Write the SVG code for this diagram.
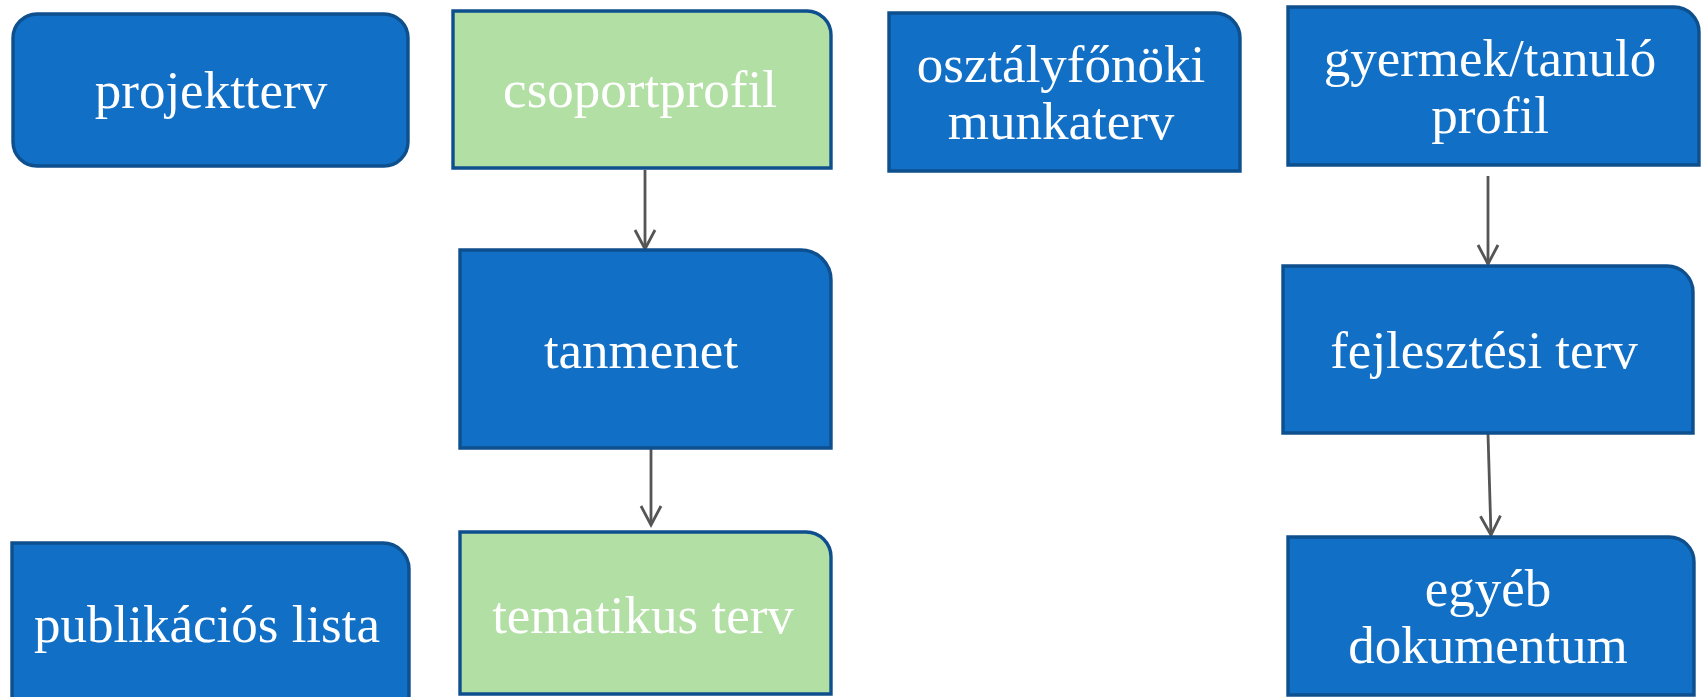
<svg xmlns="http://www.w3.org/2000/svg" width="1702" height="697" viewBox="0 0 1702 697">
<style>
.blue{fill:#116fc6;stroke:#0e4f8e;stroke-width:3.4}
.green{fill:#b2dfa4;stroke:#0e4f8e;stroke-width:3.4}
.t{font-family:"Liberation Serif","Times New Roman",serif;font-size:53px;fill:#ffffff;text-anchor:middle}
.c{fill:none;stroke:#555555;stroke-width:2.8}
</style>
<defs>
<marker id="arr" markerUnits="userSpaceOnUse" markerWidth="40" markerHeight="40" refX="0" refY="0" orient="auto" overflow="visible">
<path d="M-19,-10 L0,0 L-19,10" fill="none" stroke="#555555" stroke-width="2.8" stroke-linejoin="miter"/>
</marker>
</defs>
<rect width="1702" height="697" fill="#ffffff"/>
<g id="connectors">
<path class="c" d="M645,170 V249" marker-end="url(#arr)"/>
<path class="c" d="M651,449 V525" marker-end="url(#arr)"/>
<path class="c" d="M1488,176 V264" marker-end="url(#arr)"/>
<path class="c" d="M1488,434 L1491,535" marker-end="url(#arr)"/>
</g>
<g id="projektterv">
<rect class="blue" x="13" y="14" width="395" height="152" rx="24" ry="24"/>
<text class="t" x="211" y="108">projektterv</text>
</g>
<g id="csoportprofil">
<path class="green" d="M453,11 H807 A24,24 0 0 1 831,35 V168 H453 Z"/>
<text class="t" x="640" y="107">csoportprofil</text>
</g>
<g id="osztalyfonoki">
<path class="blue" d="M889,13 H1215 A25,25 0 0 1 1240,38 V171 H889 Z"/>
<text class="t" x="1061" y="82">osztályfőnöki</text>
<text class="t" x="1061" y="139">munkaterv</text>
</g>
<g id="gyermek">
<path class="blue" d="M1288,7 H1674 A25,25 0 0 1 1699,32 V165 H1288 Z"/>
<text class="t" x="1490" y="76">gyermek/tanuló</text>
<text class="t" x="1490" y="133">profil</text>
</g>
<g id="tanmenet">
<path class="blue" d="M460,250 H801 A30,30 0 0 1 831,280 V448 H460 Z"/>
<text class="t" x="641" y="368">tanmenet</text>
</g>
<g id="fejlesztesi">
<path class="blue" d="M1283,266 H1667 A26,26 0 0 1 1693,292 V433 H1283 Z"/>
<text class="t" x="1484" y="368">fejlesztési terv</text>
</g>
<g id="tematikus">
<path class="green" d="M460,532 H806 A25,25 0 0 1 831,557 V694 H460 Z"/>
<text class="t" x="643" y="633">tematikus terv</text>
</g>
<g id="publikacios">
<path class="blue" d="M12,543 H383 A26,26 0 0 1 409,569 V712 H12 Z"/>
<text class="t" x="207" y="642">publikációs lista</text>
</g>
<g id="egyeb">
<path class="blue" d="M1288,537 H1669 A25,25 0 0 1 1694,562 V695 H1288 Z"/>
<text class="t" x="1488" y="606">egyéb</text>
<text class="t" x="1488" y="663">dokumentum</text>
</g>
</svg>
